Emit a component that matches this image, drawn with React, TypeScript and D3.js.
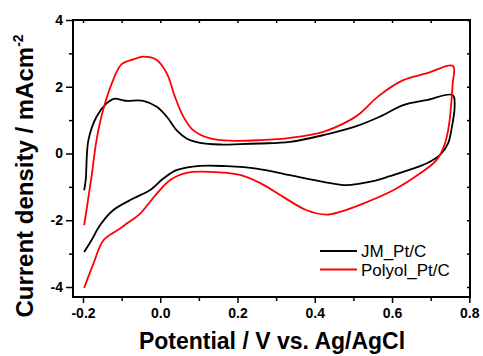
import * as React from 'react';
import * as d3 from 'd3';

// JM_Pt/C loop: anodic branch, turn at 0.76 V, cathodic branch back
const jmV = [-0.197, -0.193, -0.186, -0.165, -0.139, -0.12, -0.09, -0.044, -0.009, 0.017, 0.042, 0.068, 0.103, 0.154, 0.206, 0.258, 0.336, 0.422, 0.508, 0.568, 0.629, 0.689, 0.757,
  0.762, 0.755, 0.745, 0.724, 0.689, 0.629, 0.594, 0.551, 0.517, 0.482, 0.422, 0.336, 0.249, 0.172, 0.103, 0.042, 0.008, -0.027, -0.07, -0.122, -0.156, -0.178, -0.197];
const jmI = [-1.1, -0.8, 0.4, 1.1, 1.5, 1.64, 1.58, 1.58, 1.4, 1.1, 0.7, 0.45, 0.32, 0.27, 0.28, 0.3, 0.35, 0.55, 0.82, 1.1, 1.45, 1.6, 1.75,
  1.4, 0.8, 0.3, -0.05, -0.3, -0.55, -0.68, -0.83, -0.9, -0.95, -0.85, -0.65, -0.45, -0.38, -0.37, -0.5, -0.75, -1.1, -1.35, -1.7, -2.15, -2.6, -2.95];

// Polyol_Pt/C loop
const polV = [-0.197, -0.178, -0.165, -0.148, -0.122, -0.1, -0.07, -0.044, -0.009, 0.017, 0.038, 0.06, 0.085, 0.129, 0.189, 0.258, 0.336, 0.422, 0.491, 0.517, 0.565, 0.629, 0.689, 0.758,
  0.757, 0.754, 0.748, 0.737, 0.715, 0.672, 0.603, 0.525, 0.465, 0.43, 0.379, 0.318, 0.258, 0.206, 0.129, 0.068, 0.025, -0.009, -0.052, -0.087, -0.104, -0.147, -0.173, -0.197];
const polI = [-2.15, -0.7, 0.4, 1.3, 2.2, 2.68, 2.82, 2.9, 2.8, 2.4, 1.7, 1.1, 0.7, 0.45, 0.38, 0.4, 0.47, 0.65, 1.0, 1.2, 1.72, 2.2, 2.4, 2.62,
  2.1, 1.6, 0.9, 0.3, -0.2, -0.6, -1.1, -1.5, -1.75, -1.83, -1.7, -1.3, -0.88, -0.64, -0.55, -0.58, -0.8, -1.2, -1.8, -2.1, -2.25, -2.6, -3.3, -4.03];

const seriesNames = ['JM_Pt/C', 'Polyol_Pt/C'];
const seriesColors = ['#000000', '#ff0000'];

const xMajor = [-0.2, 0, 0.2, 0.4, 0.6, 0.8];
const xMinor = [-0.1, 0.1, 0.3, 0.5, 0.7];
const yMajor = [-4, -2, 0, 2, 4];
const yMinor = [-3, -1, 1, 3];

const FONT = '"Liberation Sans", Arial, Helvetica, sans-serif';

export default function App() {
  const ref = React.useRef<SVGSVGElement>(null);

  React.useEffect(() => {
    const x = d3.scaleLinear().domain([-0.2, 0.8]).range([83, 469.3]);
    const y = d3.scaleLinear().domain([-4, 4]).range([287, 20]);
    const left = 73, right = 470, top = 20, bottom = 297;

    const svg = d3.select(ref.current);
    svg.selectAll('*').remove();

    const series = [
      jmV.map((v, i) => [v, jmI[i]] as [number, number]),
      polV.map((v, i) => [v, polI[i]] as [number, number]),
    ];
    const line = d3.line<[number, number]>()
      .x(d => x(d[0]))
      .y(d => y(d[1]))
      .curve(d3.curveCatmullRom.alpha(0.5));

    series.forEach((s, k) => {
      svg.append('path').datum(s)
        .attr('d', line)
        .attr('fill', 'none')
        .attr('stroke', seriesColors[k])
        .attr('stroke-width', 1.8);
    });

    // frame
    svg.append('rect')
      .attr('x', left).attr('y', top)
      .attr('width', right - left).attr('height', bottom - top)
      .attr('fill', 'none').attr('stroke', '#000').attr('stroke-width', 2);

    const styleAxis = (g: any) => {
      g.select('.domain').remove();
      g.selectAll('line').attr('stroke', '#000').attr('stroke-width', 1.5);
      g.selectAll('text')
        .attr('font-family', FONT).attr('font-size', 14).attr('font-weight', 'bold').attr('fill', '#000');
    };

    // left axis
    svg.append('g').attr('transform', `translate(${left},0)`)
      .call(d3.axisLeft(y).tickValues(yMajor).tickSize(7).tickPadding(3).tickFormat(d => String(d)))
      .call(styleAxis);
    svg.append('g').attr('transform', `translate(${left},0)`)
      .call(d3.axisLeft(y).tickValues(yMinor).tickSize(4).tickFormat(() => ''))
      .call(styleAxis);

    // bottom axis
    svg.append('g').attr('transform', `translate(0,${bottom})`)
      .call(d3.axisBottom(x).tickValues(xMajor).tickSize(6).tickPadding(5).tickFormat(d => (+d).toFixed(1)))
      .call(styleAxis);
    svg.append('g').attr('transform', `translate(0,${bottom})`)
      .call(d3.axisBottom(x).tickValues(xMinor).tickSize(4).tickFormat(() => ''))
      .call(styleAxis);

    // right and top inward ticks
    svg.append('g').attr('transform', `translate(${right},0)`)
      .call(d3.axisRight(y).tickValues([...yMajor, ...yMinor]).tickSize(-3).tickFormat(() => ''))
      .call(styleAxis);
    svg.append('g').attr('transform', `translate(0,${top})`)
      .call(d3.axisTop(x).tickValues([...xMajor, ...xMinor]).tickSize(-3).tickFormat(() => ''))
      .call(styleAxis);

    // titles
    svg.append('text')
      .attr('x', 272).attr('y', 349)
      .attr('text-anchor', 'middle')
      .attr('font-family', FONT).attr('font-size', 23).attr('font-weight', 'bold')
      .text('Potential / V vs. Ag/AgCl');

    const yt = svg.append('text')
      .attr('transform', 'translate(33,176) rotate(-90)')
      .attr('text-anchor', 'middle')
      .attr('font-family', FONT).attr('font-size', 24).attr('font-weight', 'bold');
    yt.append('tspan').text('Current density / mAcm');
    yt.append('tspan').attr('font-size', 14).attr('dy', -10).text('-2');

    // legend
    seriesNames.forEach((name, k) => {
      const ly = 251 + k * 18.5;
      svg.append('line')
        .attr('x1', 320).attr('x2', 357).attr('y1', ly).attr('y2', ly)
        .attr('stroke', seriesColors[k]).attr('stroke-width', 1.8);
      svg.append('text')
        .attr('x', 361).attr('y', ly + 6)
        .attr('font-family', FONT).attr('font-size', 17)
        .text(name);
    });
  }, []);

  return (
    <svg ref={ref} width={483} height={356} style={{ position: 'absolute', left: 0, top: 0, background: '#fff' }} />
  );
}
